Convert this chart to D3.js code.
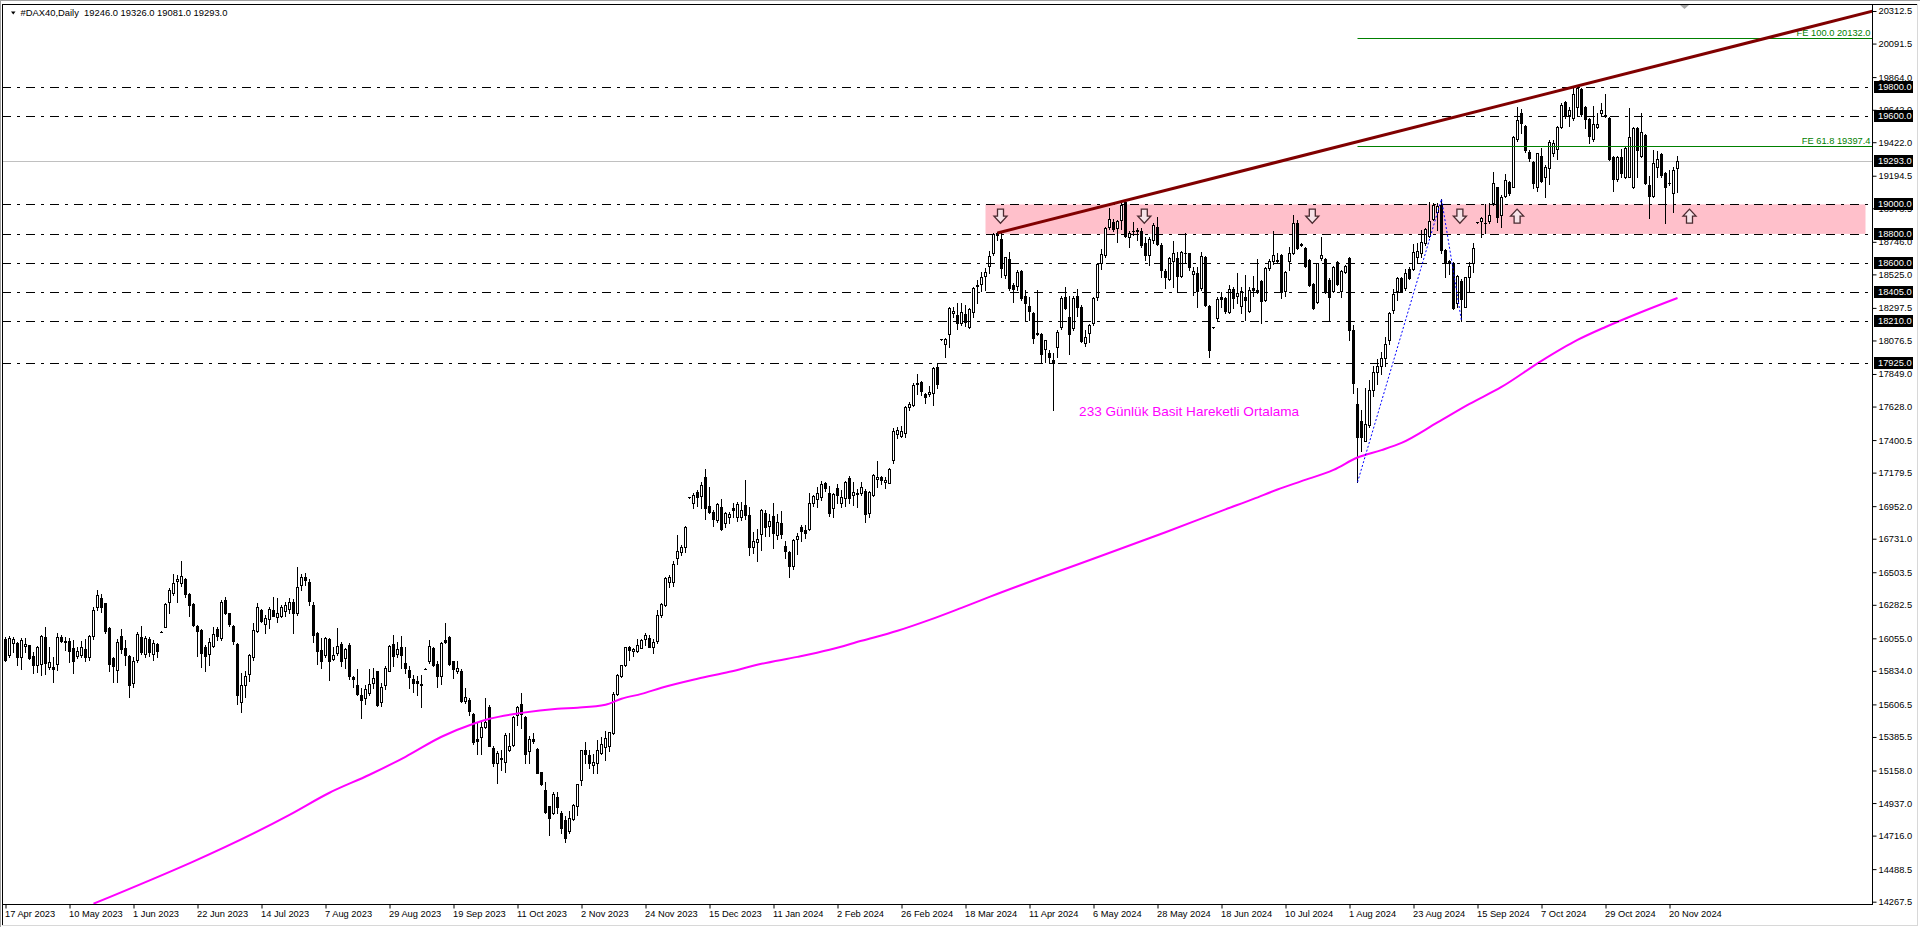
<!DOCTYPE html>
<html><head><meta charset="utf-8">
<script src="https://cdn.jsdelivr.net/npm/d3@7"></script>
<style>html,body{margin:0;padding:0;background:#fff;overflow:hidden}text{font-family:"Liberation Sans",Arial,sans-serif}</style>
</head><body><svg id="c" width="1920" height="927"></svg>
<script>
// ---------------- DATA ----------------
const title = "#DAX40,Daily  19246.0 19326.0 19081.0 19293.0";
const dateLabels = ['17 Apr 2023','10 May 2023','1 Jun 2023','22 Jun 2023','14 Jul 2023','7 Aug 2023','29 Aug 2023','19 Sep 2023','11 Oct 2023','2 Nov 2023','24 Nov 2023','15 Dec 2023','11 Jan 2024','2 Feb 2024','26 Feb 2024','18 Mar 2024','11 Apr 2024','6 May 2024','28 May 2024','18 Jun 2024','10 Jul 2024','1 Aug 2024','23 Aug 2024','15 Sep 2024','7 Oct 2024','29 Oct 2024','20 Nov 2024'];
const barsPerLabel = 16;
const yTicks = [20312.5,20091.5,19864.0,19642.0,19422.0,19194.5,18973.5,18746.0,18525.0,18297.5,18076.5,17849.0,17628.0,17400.5,17179.5,16952.0,16731.0,16503.5,16282.5,16055.0,15834.0,15606.5,15385.5,15158.0,14937.0,14716.0,14488.5,14267.5];
// daily bars [open, high, low, close]
const ohlc = [
[16049,16062,15904,15909],[15942,16071,15931,16056],[16026,16067,15965,16049],[16022,16033,15875,15931],[15927,16056,15845,16044],
[16004,16056,15965,16015],[16008,16013,15918,15920],[15936,15965,15823,15872],[15875,16004,15829,15999],[15881,16078,15807,16071],
[16062,16130,15814,15886],[15859,15999,15845,15893],[15857,15931,15757,15845],[15879,16090,15841,16062],[16062,16078,16028,16040],
[16040,16062,15976,16028],[16040,16056,15897,15972],[15988,16044,15823,15904],[15936,15995,15920,15972],[15942,16040,15931,15999],
[15981,16049,15904,15931],[15931,16080,15909,16074],[16074,16270,16049,16248],[16266,16384,16248,16350],[16327,16354,16237,16266],
[16293,16298,16094,16108],[16123,16130,15836,15879],[15920,15927,15757,15870],[15841,16049,15757,16033],[16071,16117,15954,15981],
[15990,16044,15875,15942],[15936,15940,15655,15739],[15755,15927,15723,15902],[15909,16101,15897,16085],[16062,16139,15949,15965],
[15947,16071,15927,16056],[16049,16062,15938,15961],[15949,16044,15909,16026],[16017,16022,15931,15972],[16099,16103,16095,16099],
[16130,16298,16130,16289],[16304,16395,16225,16384],[16361,16492,16350,16429],[16445,16485,16304,16456],[16433,16580,16413,16479],
[16458,16463,16338,16354],[16354,16361,16209,16282],[16289,16293,16139,16146],[16139,16146,15936,16108],[16112,16117,15857,15958],
[15999,16010,15836,15936],[15949,16056,15875,16028],[16006,16130,15999,16085],[16119,16130,16044,16074],[16056,16316,16044,16304],
[16316,16334,16221,16230],[16225,16230,16139,16153],[16139,16146,16017,16040],[16017,16022,15610,15667],[15626,15823,15558,15739],
[15739,15836,15655,15796],[15814,15949,15768,15942],[15931,16162,15909,16112],[16108,16298,16101,16266],[16248,16255,16169,16175],
[16153,16214,16094,16191],[16187,16266,16123,16255],[16248,16338,16207,16209],[16198,16327,16169,16225],[16209,16282,16203,16266],
[16243,16304,16207,16282],[16255,16327,16225,16304],[16304,16320,16090,16225],[16230,16537,16214,16406],[16420,16490,16380,16470],
[16470,16500,16420,16450],[16440,16455,16280,16310],[16282,16300,16033,16079],[16090,16095,15882,15972],[15977,16056,15852,15904],
[15943,16063,15931,16056],[16049,16056,15769,15904],[15913,15999,15909,15943],[15954,16124,15943,16004],[16015,16033,15864,15904],
[15920,15988,15852,15981],[16011,16026,15778,15796],[15791,15796,15723,15778],[15739,15846,15671,15678],[15671,15717,15513,15637],
[15649,15739,15610,15710],[15683,15846,15671,15746],[15755,15852,15717,15784],[15830,15836,15597,15603],[15626,15755,15597,15723],
[15739,15864,15710,15852],[15834,16011,15830,16004],[16017,16079,15868,15936],[15947,16033,15931,15981],[15999,16072,15852,15943],
[15886,15993,15823,15852],[15841,15868,15717,15791],[15778,15807,15694,15755],[15762,15796,15671,15751],[15746,15807,15588,15739],
[15848,15852,15844,15848],[15898,16045,15886,16004],[15988,15999,15868,15875],[15882,15904,15723,15796],[15800,16033,15746,16026],
[16045,16158,16026,16033],[16067,16072,15875,15882],[15898,15904,15784,15846],[15830,15898,15823,15852],[15836,15846,15626,15633],
[15631,15717,15615,15660],[15637,15649,15536,15565],[15542,15547,15339,15348],[15373,15479,15271,15361],[15384,15490,15271,15456],
[15456,15649,15445,15484],[15588,15603,15321,15327],[15309,15321,15190,15208],[15212,15287,15072,15276],[15242,15298,15162,15235],
[15219,15411,15151,15400],[15294,15411,15287,15321],[15332,15529,15325,15524],[15536,15597,15468,15588],[15610,15687,15445,15542],
[15524,15529,15208,15271],[15287,15389,15208,15371],[15371,15411,15343,15355],[15305,15309,15140,15144],[15147,15151,15061,15067],
[15027,15083,14868,14873],[14914,14918,14721,14834],[14868,15009,14864,15000],[14981,15015,14868,14909],[14868,14886,14737,14767],
[14819,14846,14676,14699],[14744,14886,14737,14834],[14828,14932,14823,14925],[14918,15067,14857,15067],[15095,15298,15061,15294],
[15294,15348,15208,15271],[15264,15298,15174,15212],[15196,15271,15140,15219],[15208,15366,15144,15298],[15276,15384,15271,15339],
[15316,15429,15230,15377],[15327,15422,15287,15418],[15411,15694,15407,15678],[15678,15814,15667,15807],[15800,15875,15791,15875],
[15875,15999,15868,15995],[15999,16004,15909,15977],[15972,15988,15936,15981],[15972,16049,15959,16011],[15992,16048,15987,16044],
[16048,16094,16010,16078],[16055,16078,15994,15999],[15999,16048,15953,16033],[16039,16248,16026,16214],[16214,16293,16198,16288],
[16281,16474,16275,16462],[16440,16485,16406,16474],[16440,16582,16413,16560],[16598,16756,16560,16650],[16639,16689,16621,16673],
[16673,16817,16643,16813],[17012,17016,17008,17012],[16971,17044,16937,17028],[17046,17062,16953,17012],[17021,17118,16937,17096],
[17148,17202,16863,16937],[16953,17084,16904,16915],[16915,16926,16817,16863],[16858,16971,16847,16967],[16944,16998,16790,16797],
[16840,16915,16808,16908],[16881,16915,16836,16899],[16937,16976,16876,16926],[16876,16983,16854,16967],[16876,16983,16858,16926],
[16960,17130,16863,16892],[16892,16944,16621,16673],[16673,16779,16637,16718],[16712,16795,16582,16727],[16763,16931,16655,16926],
[16904,16926,16750,16813],[16817,16899,16750,16854],[16885,16971,16666,16772],[16756,16899,16727,16847],[16840,16922,16734,16763],
[16682,16718,16598,16650],[16643,16650,16469,16546],[16548,16727,16523,16722],[16727,16772,16628,16750],[16808,16824,16718,16786],
[16790,16824,16734,16772],[16795,17039,16790,16976],[16976,17028,16953,17021],[16998,17084,16949,17044],[17012,17125,16994,17102],
[17107,17118,17057,17073],[17044,17089,16885,16908],[16937,17044,16881,17035],[17073,17102,16971,17028],[16976,17062,16944,17017],
[17005,17125,16953,17118],[17141,17157,16976,17005],[17028,17118,16960,17050],[17035,17066,16944,17039],[17039,17118,17028,17080],
[17057,17066,16847,16899],[16904,17057,16881,17050],[17028,17170,17021,17164],[17134,17261,17084,17148],[17152,17157,17102,17130],
[17114,17152,17073,17130],[17112,17209,17107,17202],[17265,17480,17243,17464],[17442,17487,17413,17469],[17428,17496,17419,17464],
[17451,17632,17424,17623],[17623,17661,17605,17645],[17639,17786,17632,17774],[17781,17849,17713,17790],[17792,17801,17706,17736],
[17713,17718,17650,17695],[17713,17768,17700,17729],[17718,17899,17639,17887],[17899,17926,17752,17781],[18084,18088,18080,18084],
[18053,18091,17962,18084],[18120,18301,18034,18295],[18265,18301,18234,18279],[18249,18329,18152,18197],[18193,18329,18181,18272],
[18256,18317,18175,18204],[18170,18295,18159,18288],[18272,18437,18238,18430],[18446,18487,18329,18453],[18460,18543,18414,18509],
[18514,18566,18419,18543],[18582,18686,18532,18650],[18668,18804,18657,18797],[18804,18815,18759,18793],[18763,18804,18505,18566],
[18521,18646,18499,18641],[18627,18680,18419,18431],[18453,18465,18340,18424],[18447,18555,18419,18544],[18551,18555,18352,18363],
[18379,18419,18216,18333],[18311,18374,18216,18279],[18266,18272,18062,18091],[18121,18419,18114,18125],[18121,18125,17933,17985],
[18017,18080,17933,18080],[17994,18012,17933,17962],[17944,17990,17605,17926],[18030,18148,17967,18137],[18166,18379,18152,18363],
[18374,18442,18288,18295],[18238,18379,17985,18121],[18159,18379,18148,18363],[18379,18424,18243,18302],[18302,18318,18069,18076],
[18062,18148,18039,18102],[18130,18189,18069,18182],[18193,18370,18182,18363],[18374,18605,18352,18596],[18605,18695,18560,18664],
[18657,18845,18646,18838],[18845,18974,18831,18899],[18883,18899,18822,18831],[18838,18894,18747,18890],[18894,19008,18831,18996],
[19019,19030,18777,18786],[18781,18822,18709,18804],[18820,18883,18793,18822],[18820,18838,18759,18827],[18822,18838,18709,18725],
[18736,18781,18623,18657],[18657,18781,18589,18763],[18759,18872,18741,18860],[18845,18917,18725,18732],[18725,18736,18505,18555],
[18551,18560,18431,18510],[18492,18646,18487,18634],[18618,18754,18442,18673],[18634,18680,18408,18514],[18514,18686,18505,18680],
[18673,18804,18612,18668],[18668,18673,18555,18573],[18528,18573,18385,18548],[18537,18578,18302,18415],[18431,18680,18419,18650],
[18646,18650,18311,18318],[18311,18318,17962,18012],[18166,18170,18162,18166],[18227,18370,18216,18356],[18370,18408,18306,18356],
[18363,18370,18266,18279],[18272,18453,18261,18424],[18424,18442,18295,18363],[18379,18533,18333,18397],[18311,18442,18266,18415],
[18370,18521,18216,18352],[18279,18442,18272,18419],[18431,18514,18379,18419],[18415,18627,18397,18419],[18483,18487,18193,18347],
[18352,18573,18347,18566],[18566,18627,18555,18618],[18618,18822,18596,18657],[18623,18668,18605,18618],[18657,18664,18363,18415],
[18415,18551,18379,18544],[18618,18713,18555,18673],[18673,18928,18664,18872],[18872,18894,18695,18702],[18732,18736,18718,18725],
[18702,18709,18578,18582],[18623,18627,18447,18453],[18460,18465,18288,18295],[18340,18605,18333,18600],[18634,18777,18623,18657],
[18627,18634,18397,18415],[18487,18499,18211,18374],[18415,18582,18408,18573],[18612,18618,18453,18460],[18415,18555,18374,18551],
[18544,18589,18533,18582],[18634,18646,18080,18148],[18150,18180,17718,17790],[17646,17752,17114,17420],[17533,17605,17323,17424],
[17391,17752,17391,17510],[17504,17809,17492,17741],[17740,17900,17700,17860],[17860,17950,17780,17900],[17900,18000,17850,17960],
[17960,18100,17900,18050],[18080,18272,18050,18265],[18283,18424,18261,18392],[18415,18510,18351,18498],[18498,18505,18408,18415],
[18430,18559,18419,18537],[18559,18573,18491,18498],[18559,18731,18555,18679],[18645,18736,18605,18686],[18672,18826,18645,18747],
[18736,18838,18724,18831],[18786,19019,18781,18890],[18899,19007,18894,18996],[18951,19012,18826,18989],[18996,19037,18672,18691],
[18691,18695,18510,18611],[18618,18623,18528,18611],[18605,18611,18288,18295],[18329,18521,18302,18514],[18482,18491,18209,18356],
[18306,18510,18302,18505],[18510,18611,18408,18582],[18600,18740,18544,18702],[18878,18882,18874,18878],[18890,18917,18781,18905],
[18871,19000,18804,18876],[18890,19007,18871,18928],[19007,19222,18996,19147],[19116,19120,18883,18912],[18928,19064,18849,19048],
[19057,19206,19048,19166],[19154,19161,19064,19075],[19120,19464,19116,19460],[19441,19659,19432,19573],[19618,19645,19482,19550],
[19532,19539,19358,19369],[19358,19369,19297,19313],[19290,19297,19109,19143],[19120,19351,19093,19347],[19328,19380,19154,19161],
[19188,19267,19052,19256],[19245,19437,19138,19426],[19351,19437,19328,19419],[19374,19532,19306,19523],[19523,19690,19516,19675],
[19697,19704,19584,19607],[19607,19663,19532,19641],[19584,19788,19573,19749],[19659,19794,19607,19788],[19781,19788,19600,19613],
[19659,19668,19516,19577],[19577,19584,19414,19464],[19441,19668,19432,19546],[19523,19618,19516,19546],[19622,19686,19607,19641],
[19607,19749,19591,19600],[19584,19591,19301,19306],[19319,19328,19093,19170],[19170,19328,19161,19319],[19319,19374,19188,19211],
[19188,19392,19177,19380],[19188,19652,19184,19460],[19120,19527,19109,19516],[19516,19527,19188,19369],[19328,19622,19319,19494],
[19471,19478,19138,19143],[19132,19193,18905,19057],[19057,19369,19048,19279],[19251,19365,19188,19306],[19342,19351,19188,19199],
[19215,19222,18871,19116],[19143,19233,19132,19147],[19075,19256,18951,19233],[19246,19326,19081,19293]
];
// 233-day simple moving average at these bar numbers
const maIdx = [22,71,81,91,100,109,117,121,129,138,143,150,154,159,164,173,181,189,198,206,214,223,231,239,246,260,274,290,305,312,318,324,332,338,344,349,358,366,374,384,393,400,409,418];
const maVal = [14254,14857,15007,15129,15251,15387,15475,15509,15549,15577,15584,15604,15645,15678,15719,15780,15828,15882,15929,15977,16038,16106,16180,16262,16336,16478,16615,16775,16930,17001,17065,17122,17198,17282,17332,17381,17520,17646,17761,17938,18080,18168,18270,18365];
const levels = [19800,19600,19000,18800,18600,18405,18210,17925];
const lastPrice = 19293.0;
const zone = {i0:245, i1:465, lo:18800, hi:19000};
const trend = [{i:248,p:18806},{i:418,p:19976}];
const fibo = [{i:338,p:17114},{i:359,p:19037},{i:364,p:18209}];
const feRatios = [100.0, 61.8];
const arrowIdx = [248.75,284.7,326.7,363.6,377.9,421];
const arrowDir = ['down','down','down','down','up','up'];
const arrowPrice = 18920;
const maLabel = {text:'233 Günlük Basit Hareketli Ortalama', i:268.4, p:17566};

// ---------------- DRAW ----------------
const W=1920,H=927;
const plot={l:2,t:4,r:1872,b:904};
const svg=d3.select('#c');
const x=d3.scaleLinear().domain([0,100]).range([5.5,405.5]);
const y=d3.scaleLinear().domain([14267.5,20312.5]).range([901.7,11]);
const FONT='9.3px';

svg.append('rect').attr('width',W).attr('height',H).attr('fill','#fff');
// window frame
svg.append('line').attr('x1',0).attr('x2',W).attr('y1',0.5).attr('y2',0.5).attr('stroke','#a0a0a0');
svg.append('line').attr('x1',0.5).attr('x2',0.5).attr('y1',0).attr('y2',H).attr('stroke','#a0a0a0');
svg.append('line').attr('x1',plot.l).attr('x2',1917).attr('y1',4.5).attr('y2',4.5).attr('stroke','#000');
svg.append('line').attr('x1',2.5).attr('x2',2.5).attr('y1',4).attr('y2',925).attr('stroke','#000');
svg.append('line').attr('x1',1917.5).attr('x2',1917.5).attr('y1',4).attr('y2',926).attr('stroke','#d8d8d8');
svg.append('line').attr('x1',2).attr('x2',1918).attr('y1',925.5).attr('y2',925.5).attr('stroke','#d8d8d8');

svg.append('defs').append('clipPath').attr('id','clip').append('rect')
  .attr('x',plot.l+1).attr('y',plot.t+1).attr('width',plot.r-plot.l-1).attr('height',plot.b-plot.t-1);
const g=svg.append('g').attr('clip-path','url(#clip)');

// support/resistance zone
g.append('rect').attr('x',x(zone.i0)).attr('width',x(zone.i1)-x(zone.i0))
 .attr('y',y(zone.hi)).attr('height',y(zone.lo)-y(zone.hi)).attr('fill','#ffc0cb');

// last price line
const yl=Math.round(y(lastPrice))+0.5;
g.append('line').attr('x1',plot.l).attr('x2',plot.r).attr('y1',yl).attr('y2',yl).attr('stroke','#c0c0c0');

// candles
const cg=g.append('g');
ohlc.forEach((d,i)=>{
  const [o,h,l,c]=d; const cx=x(i);
  cg.append('line').attr('x1',cx).attr('x2',cx).attr('y1',Math.round(y(h))).attr('y2',Math.round(y(l))+1).attr('stroke','#000');
  const top=Math.round(y(Math.max(o,c)))+0.5, bot=Math.round(y(Math.min(o,c)))+0.5;
  if(bot-top<1){
    cg.append('line').attr('x1',cx-1.5).attr('x2',cx+1.5).attr('y1',top).attr('y2',top).attr('stroke','#000');
  } else {
    cg.append('rect').attr('x',cx-1).attr('width',2).attr('y',top).attr('height',bot-top)
      .attr('fill',c>=o?'#fff':'#000').attr('stroke','#000').attr('stroke-width',1);
  }
});

// moving average
const maLine=d3.line().x(d=>x(d[0])).y(d=>y(d[1])).curve(d3.curveMonotoneX);
g.append('path').datum(maIdx.map((i,k)=>[i,maVal[k]])).attr('d',maLine)
 .attr('fill','none').attr('stroke','#ff00ff').attr('stroke-width',2);

// horizontal levels (dash-dot)
levels.forEach(v=>{
  const yy=Math.round(y(v))+0.5;
  g.append('line').attr('x1',plot.l).attr('x2',plot.r).attr('y1',yy).attr('y2',yy)
   .attr('stroke','#000').attr('stroke-dasharray','9,6,3,6');
});

// fibo expansion
const [A,B,C]=fibo;
feRatios.forEach(r=>{
  const v=C.p+(B.p-A.p)*r/100; const yy=Math.round(y(v))+0.5;
  g.append('line').attr('x1',x(A.i)).attr('x2',plot.r).attr('y1',yy).attr('y2',yy).attr('stroke','#008000');
  g.append('text').attr('x',plot.r-1.5).attr('y',yy-2.5).attr('text-anchor','end').attr('font-size',FONT)
   .attr('fill','#008000').text(`FE ${r.toFixed(1)} ${v.toFixed(1)}`);
});
g.append('path').datum(fibo).attr('d',d3.line().x(d=>x(d.i)).y(d=>y(d.p)))
 .attr('fill','none').attr('stroke','#0000ff').attr('stroke-width',1).attr('stroke-dasharray','2,2');

// trend line (ray to the right)
const slope=(trend[1].p-trend[0].p)/(trend[1].i-trend[0].i);
const iEnd=x.invert(plot.r+5);
g.append('line').attr('x1',x(trend[0].i)).attr('y1',y(trend[0].p))
 .attr('x2',x(iEnd)).attr('y2',y(trend[0].p+slope*(iEnd-trend[0].i)))
 .attr('stroke','#800000').attr('stroke-width',3);

// arrows
arrowIdx.forEach((ai,k)=>{
  const cx=x(ai), cy=y(arrowPrice);
  const s=arrowDir[k]==='down'?1:-1;
  const t=cy-7*s;
  const p=`M${cx-3},${t} L${cx+3},${t} L${cx+3},${t+7*s} L${cx+6.5},${t+7*s} L${cx},${t+14*s} L${cx-6.5},${t+7*s} L${cx-3},${t+7*s} Z`;
  g.append('path').attr('d',p).attr('fill','#f6e3e8').attr('stroke','#4a2a30').attr('stroke-width',1.3).attr('stroke-linejoin','miter');
});

// MA label
g.append('text').attr('x',x(maLabel.i)).attr('y',y(maLabel.p)).attr('fill','#ff00ff')
 .attr('font-family','"Open Sans","Noto Sans",sans-serif').attr('font-size','13.5px').attr('textLength',220).attr('lengthAdjust','spacingAndGlyphs')
 .text(maLabel.text);

// axes lines
svg.append('line').attr('x1',plot.l).attr('x2',plot.r+1).attr('y1',plot.b+0.5).attr('y2',plot.b+0.5).attr('stroke','#000');
svg.append('line').attr('x1',plot.r+0.5).attr('x2',plot.r+0.5).attr('y1',plot.t).attr('y2',plot.b+1).attr('stroke','#000');

// y axis
const ya=svg.append('g').attr('transform',`translate(${plot.r+0.5},0)`)
 .call(d3.axisRight(y).tickValues(yTicks).tickSize(4).tickPadding(2).tickFormat(d=>d.toFixed(1)));
ya.select('.domain').remove();
ya.selectAll('text').attr('font-size',FONT).attr('font-family','"Liberation Sans",Arial,sans-serif').attr('fill','#000');
ya.selectAll('line').attr('stroke','#000');

// x axis
const xa=svg.append('g').attr('transform',`translate(0,${plot.b+0.5})`)
 .call(d3.axisBottom(x).tickValues(dateLabels.map((_,k)=>k*barsPerLabel)).tickSize(4).tickFormat((d,k)=>dateLabels[k]));
xa.select('.domain').remove();
xa.selectAll('text').attr('font-size',FONT).attr('font-family','"Liberation Sans",Arial,sans-serif').attr('fill','#000')
 .attr('text-anchor','start').attr('dx','-1').attr('y',6);
xa.selectAll('line').attr('stroke','#000');

// price tags
[...levels,lastPrice].forEach(v=>{
  const yy=Math.round(y(v));
  svg.append('rect').attr('x',plot.r+2).attr('y',yy-6).attr('width',39).attr('height',12).attr('fill','#000');
  svg.append('text').attr('x',plot.r+6).attr('y',yy).attr('dy','0.34em').attr('font-size',FONT).attr('fill','#fff').text(v.toFixed(1));
});

// title
svg.append('path').attr('d','M11,11.5 L15.5,11.5 L13.25,14.5 Z').attr('fill','#000');
svg.append('text').attr('x',20.5).attr('y',16.3).attr('font-size','9.4px').attr('fill','#000').attr('xml:space','preserve').style('white-space','pre').text(title);
// chart shift marker
svg.append('path').attr('d','M1680,5 L1689,5 L1684.5,9 Z').attr('fill','#a8a8a8');
</script></body></html>
